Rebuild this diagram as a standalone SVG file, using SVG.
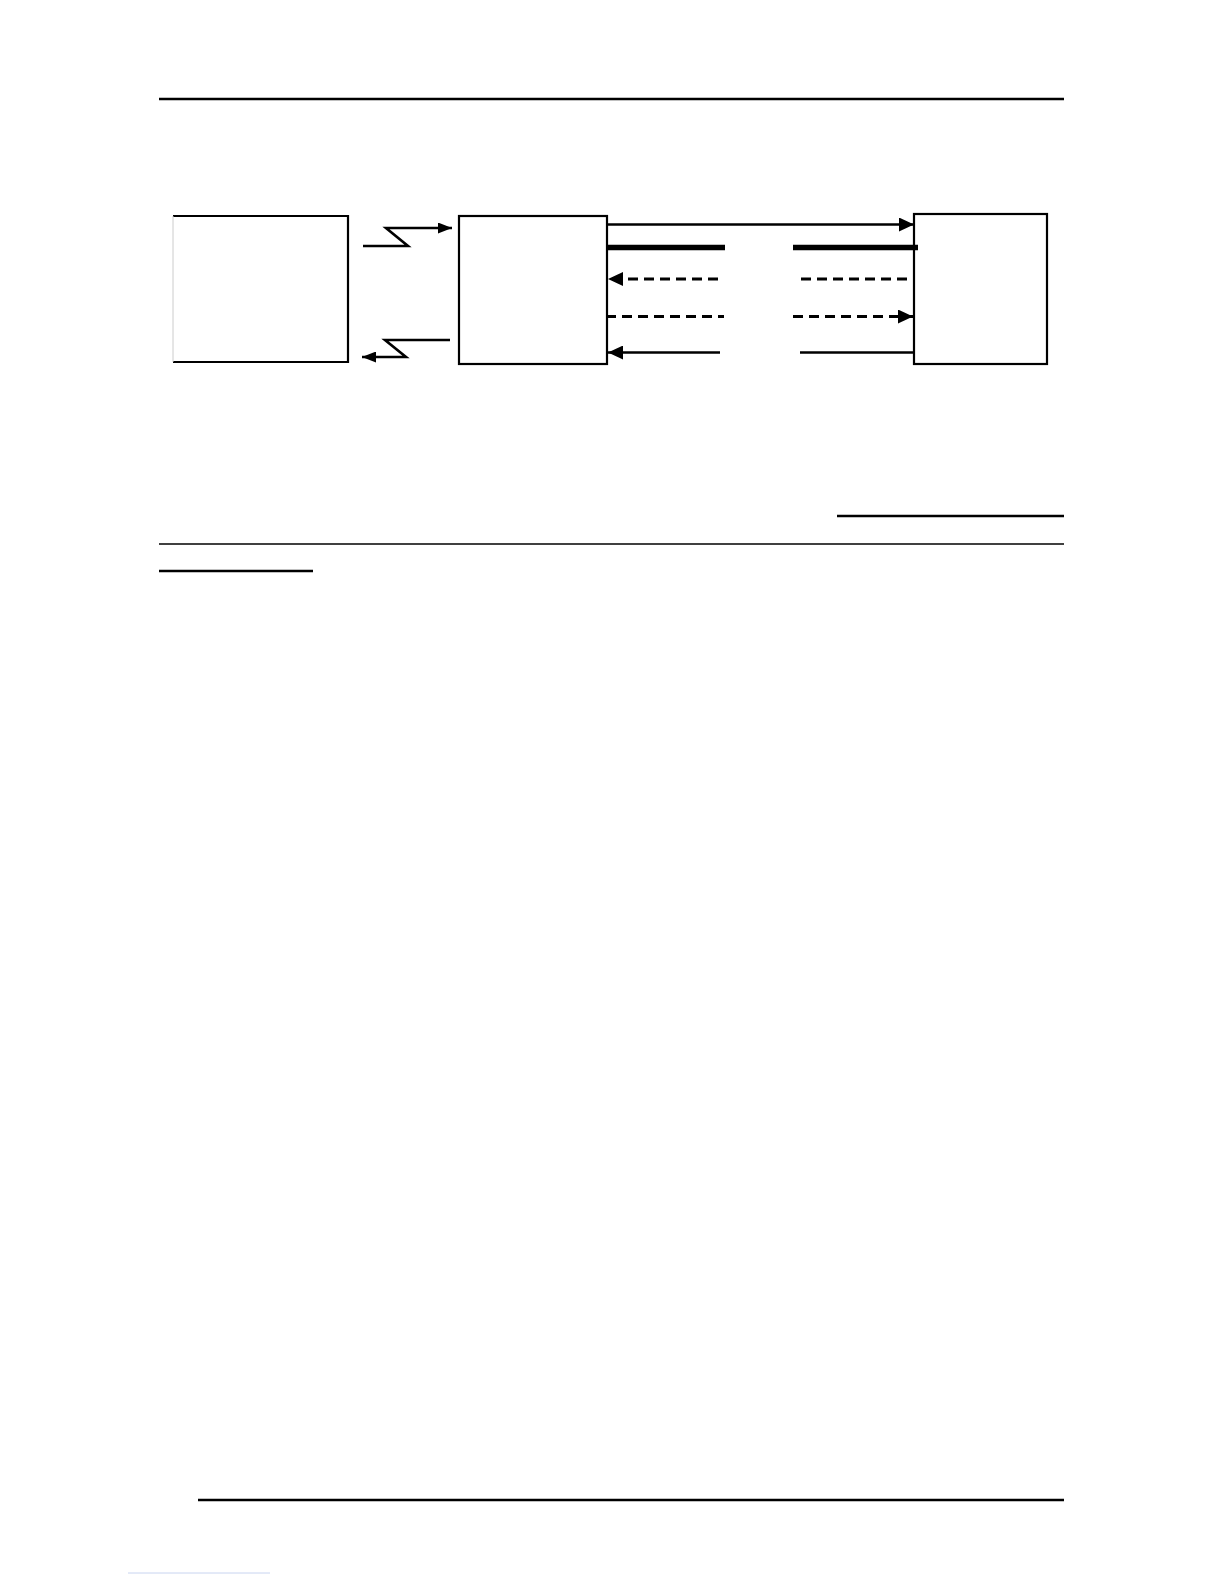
<svg xmlns="http://www.w3.org/2000/svg" width="1224" height="1584" viewBox="0 0 1224 1584">
<style>
.box{fill:#fff;stroke:#000;stroke-width:2.2}
.ln{fill:none;stroke:#000;stroke-width:2.6}
.thick{fill:none;stroke:#000;stroke-width:5.5}
.dash{fill:none;stroke:#000;stroke-width:3;stroke-dasharray:10,6}
.rule{stroke:#000;fill:none}
</style>
<defs>
<marker id="ah" viewBox="0 0 15 14" refX="15" refY="7" markerWidth="15" markerHeight="14" orient="auto-start-reverse" markerUnits="userSpaceOnUse">
<path d="M0,0 L15,7 L0,14 z" fill="#000"/>
</marker>
<marker id="ahs" viewBox="0 0 14 11" refX="14" refY="5.5" markerWidth="14" markerHeight="11" orient="auto-start-reverse" markerUnits="userSpaceOnUse">
<path d="M0,0 L14,5.5 L0,11 z" fill="#000"/>
</marker>
</defs>
<rect width="1224" height="1584" fill="#fff"/>
<g id="page-rules">
<line class="rule" x1="159" y1="99" x2="1064" y2="99" stroke-width="2.5"/>
<line class="rule" x1="837" y1="516" x2="1064" y2="516" stroke-width="2.5"/>
<line class="rule" x1="159" y1="544" x2="1064" y2="544" stroke-width="1.5"/>
<line class="rule" x1="159" y1="571" x2="313" y2="571" stroke-width="2.5"/>
<line class="rule" x1="198" y1="1500" x2="1064" y2="1500" stroke-width="2.5"/>
<line x1="128" y1="1573" x2="270" y2="1573" stroke="#c8d4f0" stroke-width="1"/>
</g>
<g id="node-a">
<rect x="173" y="216" width="175" height="146" fill="#fff" stroke="none"/>
<path d="M173,216 H348 V362 H173" fill="none" stroke="#000" stroke-width="2.2"/>
<line x1="173" y1="216" x2="173" y2="362" stroke="#ccc" stroke-width="1"/>
</g>
<g id="node-b">
<rect class="box" x="459" y="216" width="148" height="148"/>
</g>
<g id="node-c">
<rect class="box" x="914" y="214" width="133" height="150"/>
</g>
<g id="connectors">
<polyline class="ln" points="363,246 408,246 386,228 452,228" marker-end="url(#ahs)"/>
<polyline class="ln" points="450,340 385,340 406,357 362,357" marker-end="url(#ahs)"/>
<line class="ln" x1="607" y1="224.5" x2="914" y2="224.5" marker-end="url(#ah)"/>
<line class="thick" x1="606" y1="247.5" x2="725" y2="247.5"/>
<line class="thick" x1="793" y1="247.5" x2="918" y2="247.5"/>
<line class="dash" x1="718" y1="279" x2="608" y2="279" marker-end="url(#ah)"/>
<line class="dash" x1="801" y1="279" x2="912" y2="279"/>
<line class="dash" x1="606" y1="316.5" x2="724" y2="316.5"/>
<line class="dash" x1="793" y1="316.5" x2="913" y2="316.5" marker-end="url(#ah)"/>
<line class="ln" x1="720" y1="352.5" x2="608" y2="352.5" marker-end="url(#ah)"/>
<line class="ln" x1="800" y1="352.5" x2="914" y2="352.5"/>
</g>
</svg>
